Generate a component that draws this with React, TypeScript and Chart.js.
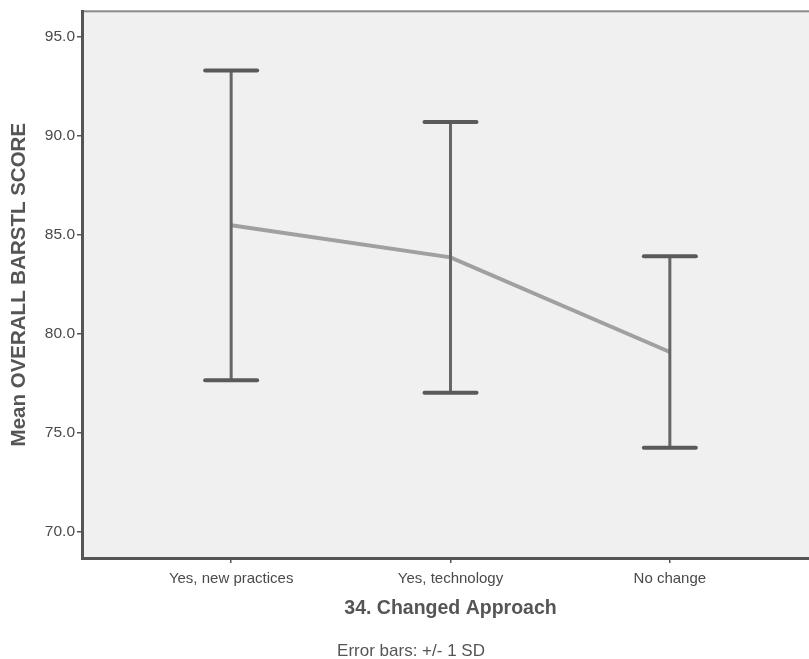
import React, { useEffect, useRef } from "react";
import { Chart, registerables } from "chart.js";

Chart.register(...registerables);

const categories = ["Yes, new practices", "Yes, technology", "No change"];
const means = [85.47, 83.85, 79.08];
const sds = [7.81, 6.83, 4.83];
const yTicks = [70, 75, 80, 85, 90, 95];
const yTitle = "Mean OVERALL BARSTL SCORE";
const xTitle = "34. Changed Approach";
const footer = "Error bars: +/- 1 SD";

const FONT = "'Liberation Sans', Arial, sans-serif";

const decorPlugin = {
  id: "decor",
  beforeDraw(chart: any) {
    const { ctx, chartArea } = chart;
    ctx.save();
    ctx.fillStyle = "#f0f0f0";
    ctx.fillRect(chartArea.left, chartArea.top, chartArea.right - chartArea.left, chartArea.bottom - chartArea.top);
    ctx.strokeStyle = "#8a8a8a";
    ctx.lineWidth = 2;
    ctx.strokeRect(chartArea.left, chartArea.top, chartArea.right - chartArea.left, chartArea.bottom - chartArea.top);
    ctx.restore();
  },
  afterDatasetsDraw(chart: any) {
    const { ctx, scales, chartArea } = chart;
    const xs = scales.x;
    const ys = scales.y;
    ctx.save();
    means.forEach((m, i) => {
      const x = xs.getPixelForValue(i);
      const yHi = ys.getPixelForValue(m + sds[i]);
      const yLo = ys.getPixelForValue(m - sds[i]);
      ctx.strokeStyle = "#666";
      ctx.lineWidth = 3;
      ctx.beginPath();
      ctx.moveTo(x, yHi);
      ctx.lineTo(x, yLo);
      ctx.stroke();
      ctx.lineWidth = 4;
      ctx.strokeStyle = "#5a5a5a";
      ctx.lineCap = "round";
      [yHi, yLo].forEach((y) => {
        ctx.beginPath();
        ctx.moveTo(x - 26, y);
        ctx.lineTo(x + 26, y);
        ctx.stroke();
      });
    });
    // footer
    ctx.fillStyle = "#555";
    ctx.font = `17px ${FONT}`;
    ctx.textAlign = "center";
    ctx.textBaseline = "middle";
    ctx.fillText(footer, 411, chartArea.bottom + 93);
    ctx.restore();
  },
};

export default function App() {
  const ref = useRef<HTMLCanvasElement>(null);
  useEffect(() => {
    document.body.style.margin = "0";
    const chart = new Chart(ref.current!, {
      type: "line",
      data: {
        datasets: [
          {
            data: means.map((m, i) => ({ x: i, y: m })),
            borderColor: "#a0a0a0",
            borderWidth: 4,
            pointRadius: 0,
            tension: 0,
          },
        ],
      },
      options: {
        animation: false,
        responsive: false,
        events: [],
        layout: { padding: { top: 11, right: 21, bottom: 31, left: 0 } },
        plugins: { legend: { display: false }, tooltip: { enabled: false } },
        scales: {
          x: {
            type: "linear",
            min: -0.68,
            max: 2.68,
            afterBuildTicks: (s: any) => {
              s.ticks = categories.map((_, i) => ({ value: i }));
            },
            afterFit: (s: any) => {
              s.height = 70;
            },
            ticks: {
              callback: (v: any) => categories[v as number] ?? "",
              font: { family: FONT, size: 15 },
              color: "#4a4a4a",
              padding: 7,
              maxRotation: 0,
              autoSkip: false,
            },
            grid: { drawOnChartArea: false, tickLength: 5, color: "#555", lineWidth: 1.5 },
            border: { display: true, color: "#555", width: 3 },
            title: {
              display: true,
              text: xTitle,
              font: { family: FONT, size: 19.5, weight: "bold" },
              color: "#555",
              padding: { top: 0, bottom: 8 },
            },
          },
          y: {
            min: 68.69,
            max: 96.26,
            afterBuildTicks: (s: any) => {
              s.ticks = yTicks.map((v) => ({ value: v }));
            },
            afterFit: (s: any) => {
              s.width = 82;
            },
            ticks: {
              callback: (v: any) => Number(v).toFixed(1),
              font: { family: FONT, size: 15.5 },
              color: "#4a4a4a",
              padding: 2,
            },
            grid: { drawOnChartArea: false, tickLength: 5, color: "#555", lineWidth: 1.5 },
            border: { display: true, color: "#555", width: 3 },
            title: {
              display: true,
              text: yTitle,
              font: { family: FONT, size: 20.5, weight: "bold" },
              color: "#555",
              padding: { top: 7, bottom: 0 },
            },
          },
        },
      },
      plugins: [decorPlugin],
    });
    return () => chart.destroy();
  }, []);
  return (
    <div style={{ width: 809, height: 659, overflow: "hidden", position: "relative" }}>
      <canvas ref={ref} width={840} height={659} style={{ display: "block", width: 840, height: 659 }} />
    </div>
  );
}
